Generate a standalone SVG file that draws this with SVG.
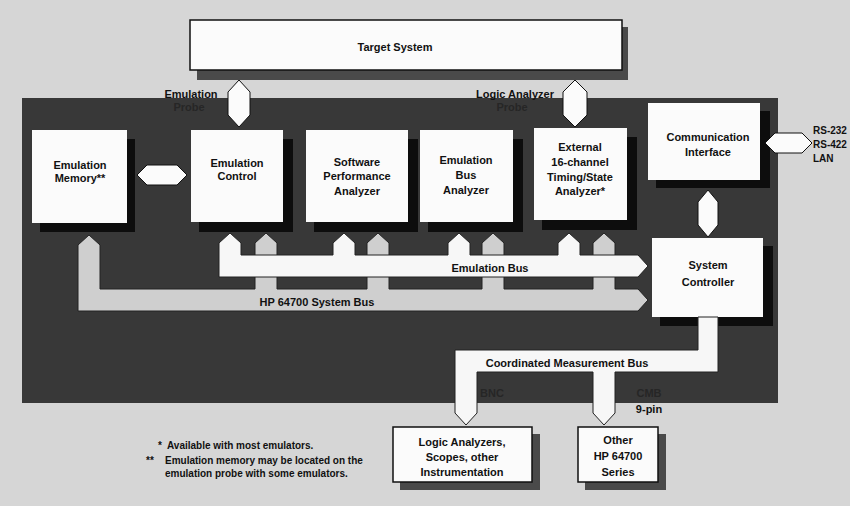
<svg xmlns="http://www.w3.org/2000/svg" width="850" height="506" viewBox="0 0 850 506">
<style>
  text{font-family:"Liberation Sans",Arial,sans-serif;font-weight:bold;font-size:11px;fill:#111;text-anchor:middle}
  .dk{fill:#262626}
  .st{text-anchor:start}
  .fn{font-size:10px}
  .rs{font-size:10px}
  .box{fill:#fbfbfb}
  .obox{fill:#fbfbfb;stroke:#111;stroke-width:1.5}
  .sh{fill:#0d0d0d}
  .shl{fill:#4a4a4a}
  .hex{fill:#fbfbfb;stroke:#111;stroke-width:1}
  .wbus{fill:#f7f7f7;stroke:#222;stroke-width:1}
  .gbus{fill:#cfcfcf;stroke:#222;stroke-width:1}
</style>
<rect width="850" height="506" fill="#d6d6d6"/>
<rect x="22" y="98" width="756" height="305" fill="#383838"/>

<g id="target-system">
  <rect class="shl" x="197" y="27" width="431" height="53"/>
  <rect class="obox" x="190" y="20" width="432" height="50"/>
  <text x="395" y="51">Target System</text>
</g>

<g id="emulation-memory">
  <rect class="sh" x="40" y="139" width="95" height="93"/>
  <rect class="box" x="32" y="130" width="95" height="93"/>
  <text x="80" y="169">Emulation</text>
  <text x="80" y="182">Memory**</text>
</g>
<g id="emulation-control">
  <rect class="sh" x="199" y="139" width="94" height="93"/>
  <rect class="box" x="191" y="130" width="92" height="92"/>
  <text x="237" y="167">Emulation</text>
  <text x="237" y="180">Control</text>
</g>
<g id="software-performance-analyzer">
  <rect class="sh" x="314" y="139" width="104" height="93"/>
  <rect class="box" x="306" y="130" width="102" height="92"/>
  <text x="357" y="166">Software</text>
  <text x="357" y="180">Performance</text>
  <text x="357" y="195">Analyzer</text>
</g>
<g id="emulation-bus-analyzer">
  <rect class="sh" x="428" y="139" width="95" height="93"/>
  <rect class="box" x="420" y="130" width="93" height="92"/>
  <text x="466" y="164">Emulation</text>
  <text x="466" y="179">Bus</text>
  <text x="466" y="194">Analyzer</text>
</g>
<g id="timing-state-analyzer">
  <rect class="sh" x="542" y="137" width="95" height="93"/>
  <rect class="box" x="534" y="128" width="93" height="92"/>
  <text x="580" y="151">External</text>
  <text x="580" y="166">16-channel</text>
  <text x="580" y="181">Timing/State</text>
  <text x="580" y="195">Analyzer*</text>
</g>
<g id="communication-interface">
  <rect class="sh" x="656" y="111" width="114" height="77"/>
  <rect class="box" x="648" y="103" width="112" height="77"/>
  <text x="708" y="141">Communication</text>
  <text x="708" y="156">Interface</text>
</g>
<g id="system-controller">
  <rect class="sh" x="660" y="246" width="113" height="80"/>
  <rect class="box" x="652" y="238" width="111" height="79"/>
  <text x="708" y="269">System</text>
  <text x="708" y="286">Controller</text>
</g>
<g id="logic-analyzers">
  <rect class="shl" x="400" y="434" width="140" height="56"/>
  <rect class="obox" x="393" y="427" width="139" height="55"/>
  <text x="462" y="446">Logic Analyzers,</text>
  <text x="462" y="461">Scopes, other</text>
  <text x="462" y="476">Instrumentation</text>
</g>
<g id="other-hp64700">
  <rect class="shl" x="585" y="434" width="81" height="56"/>
  <rect class="obox" x="578" y="427" width="80" height="55"/>
  <text x="618" y="444">Other</text>
  <text x="618" y="460">HP 64700</text>
  <text x="618" y="476">Series</text>
</g>

<g id="connectors">
  <polygon class="hex" points="239,80 250,92 250,115 239,127 228,115 228,92"/>
  <polygon class="hex" points="575,80 587,92 587,115 575,127 563,115 563,92"/>
  <polygon class="hex" points="137,175 147,165 177,165 187,175 177,185 147,185"/>
  <polygon class="hex" points="765,143 775,133 802,133 812,143 802,153 775,153"/>
  <polygon class="hex" points="708,190 718,202 718,225 708,237 698,225 698,202"/>
  <path class="gbus" d="M78,311 L78,245 L89,235 L100,245 L100,289 L255,289 L255,243 L266,233 L277,243 L277,289 L367,289 L367,243 L378,233 L389,243 L389,289 L482,289 L482,243 L493,233 L504,243 L504,289 L593,289 L593,243 L604,233 L615,243 L615,289 L638,289 L648,300 L638,311 Z"/>
  <path class="wbus" d="M219,277 L219,243 L230,233 L241,243 L241,255 L333,255 L333,243 L344,233 L355,243 L355,255 L448,255 L448,243 L459,233 L470,243 L470,255 L558,255 L558,243 L569,233 L580,243 L580,255 L638,255 L648,266 L638,277 Z"/>
  <path class="wbus" d="M698,317 L718,317 L718,372 L615,372 L615,413 L604,425 L593,413 L593,372 L477,372 L477,413 L466,425 L455,413 L455,350 L698,350 Z"/>
</g>

<g id="labels">
  <text x="191" y="98">Emulation</text>
  <text class="dk" x="189" y="111">Probe</text>
  <text x="515" y="98">Logic Analyzer</text>
  <text class="dk" x="512" y="111">Probe</text>
  <text class="st rs" x="813" y="134">RS-232</text>
  <text class="st rs" x="813" y="148">RS-422</text>
  <text class="st rs" x="813" y="162">LAN</text>
  <text x="490" y="272">Emulation Bus</text>
  <text x="317" y="306">HP 64700 System Bus</text>
  <text x="567" y="367">Coordinated Measurement Bus</text>
  <text class="dk" x="492" y="397">BNC</text>
  <text class="dk" x="649" y="397">CMB</text>
  <text x="649" y="413">9-pin</text>
</g>

<g id="footnotes">
  <text class="fn st" x="158" y="449">*</text>
  <text class="fn st" x="167" y="449">Available with most emulators.</text>
  <text class="fn st" x="146" y="464">**</text>
  <text class="fn st" x="165" y="464">Emulation memory may be located on the</text>
  <text class="fn st" x="165" y="477">emulation probe with some emulators.</text>
</g>
</svg>
